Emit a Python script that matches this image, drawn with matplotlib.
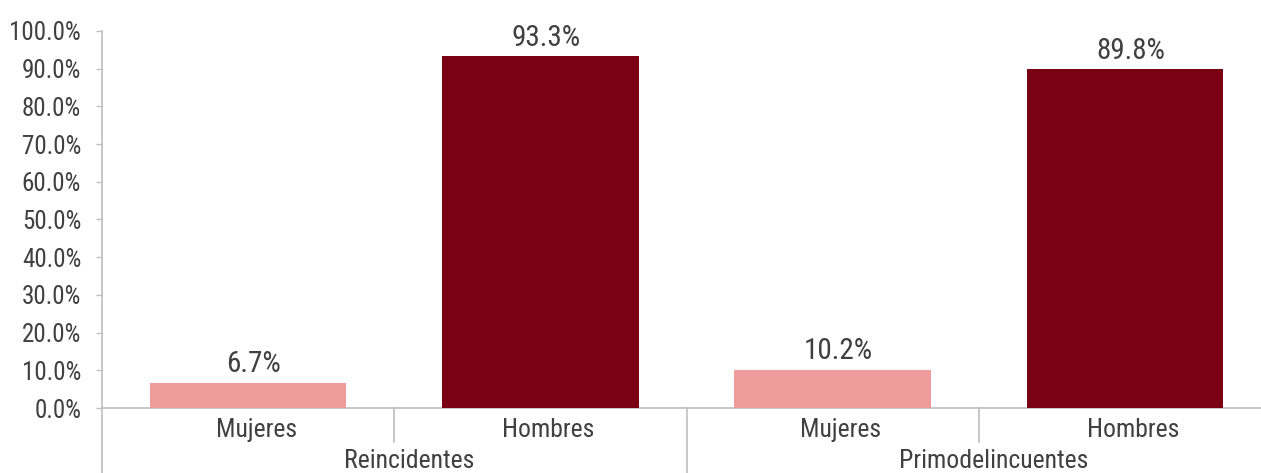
import matplotlib
matplotlib.use("Agg")
import matplotlib.pyplot as plt
import matplotlib.transforms as mtransforms
from matplotlib import font_manager
from matplotlib.font_manager import FontProperties

# datos
grupos = ["Reincidentes", "Primodelincuentes"]
sexos = ["Mujeres", "Hombres"]
valores = [6.7, 93.3, 10.2, 89.8]
yticks = [0, 10, 20, 30, 40, 50, 60, 70, 80, 90, 100]

COL_MUJ = "#EE9B9B"
COL_HOM = "#7A0014"
COL_TXT = "#404040"
COL_AX = "#BFBFBF"


def buscar_condensada():
    """Busca una fuente condensada instalada (la original es tipo Myriad Condensed)."""
    cand = []
    for f in font_manager.fontManager.ttflist:
        nom = f.name.lower()
        ruta = f.fname.lower()
        cond = (str(f.stretch) in ("condensed", "semi-condensed", "extra-condensed")
                or "condensed" in nom or "narrow" in nom
                or "condensed" in ruta or "narrow" in ruta)
        if not cond or f.style != "normal":
            continue
        if "bold" in ruta or "light" in ruta or "italic" in ruta or "oblique" in ruta:
            continue
        prio = 2 if "semi" in ruta else 1
        if "noto" in ruta or "open" in ruta or "roboto" in ruta or "liberation" in ruta:
            prio -= 0.5
        cand.append((prio, f.fname))
    cand.sort()
    return cand[0][1] if cand else None


ruta = buscar_condensada()
if ruta:
    base = dict(fname=ruta)
    esc = 1.0
else:
    base = dict(family="Open Sans")
    esc = 0.85

FP_TICK = FontProperties(size=18 * esc, **base)
FP_CAT = FontProperties(size=18.5 * esc, **base)
FP_DAT = FontProperties(size=21 * esc, **base)

W, H = 1261, 473
fig = plt.figure(figsize=(W / 100, H / 100), dpi=100)
ax = fig.add_axes([102 / W, (H - 408) / H, (1271 - 102) / W, (408 - 31) / H])

x = list(range(len(valores)))
colores = [COL_MUJ, COL_HOM] * len(grupos)
ax.bar(x, valores, width=0.672, color=colores, zorder=3)

for xi, v in zip(x, valores):
    ax.annotate(f"{v:.1f}%", (xi, v), xytext=(4, 7.5), textcoords="offset points",
                ha="center", va="baseline", fontproperties=FP_DAT, color=COL_TXT)

ax.set_xlim(-0.5, len(valores) - 0.5)
ax.set_ylim(0, 100)
ax.set_yticks(yticks)
ax.set_yticklabels([f"{t:.1f}%" for t in yticks], fontproperties=FP_TICK, color=COL_TXT)
ax.tick_params(axis="y", length=4, width=1, color=COL_AX, pad=11)
ax.set_xticks([])

for s in ["top", "right"]:
    ax.spines[s].set_visible(False)
for s in ["left", "bottom"]:
    ax.spines[s].set_color(COL_AX)
    ax.spines[s].set_linewidth(1.2)

trans = mtransforms.blended_transform_factory(ax.transData, ax.transAxes)
px = 1 / 377  # un pixel vertical en coordenadas del eje
dx = 1 / 292  # un pixel horizontal en unidades de datos

# etiquetas de categorias
for xi in x:
    ax.text(xi + 8 * dx, -29 * px, sexos[xi % 2], transform=trans, ha="center",
            va="baseline", fontproperties=FP_CAT, color=COL_TXT)
for gi, g in enumerate(grupos):
    ax.text(gi * 2 + 0.5 + 15 * dx, -60 * px, g, transform=trans, ha="center",
            va="baseline", fontproperties=FP_CAT, color=COL_TXT)

# separadores
for b in [0.5, 2.5]:
    ax.plot([b, b], [0, -34 * px], transform=trans, color=COL_AX, lw=1.2, clip_on=False)
for b in [-0.5, 1.5]:
    ax.plot([b, b], [0, -70 * px], transform=trans, color=COL_AX, lw=1.2, clip_on=False)

fig.savefig("out.png", dpi=100)
